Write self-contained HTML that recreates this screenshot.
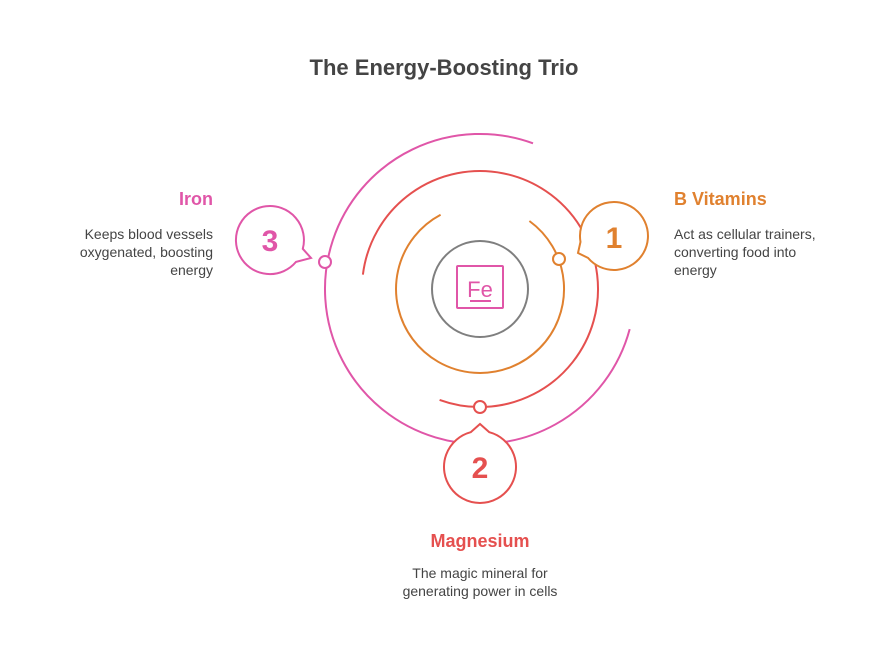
<!DOCTYPE html>
<html><head><meta charset="utf-8"><style>
html,body{margin:0;padding:0;background:#fff;}
svg{display:block;font-family:"Liberation Sans",Arial,sans-serif;}
</style></head><body>
<svg width="888" height="662" viewBox="0 0 888 662">
<text x="444" y="75" text-anchor="middle" font-size="22" font-weight="bold" fill="#444">The Energy-Boosting Trio</text>

<circle cx="480" cy="289" r="48" fill="none" stroke="#7f7f7f" stroke-width="2"/>
<rect x="457" y="266" width="46" height="42" fill="none" stroke="#E056A8" stroke-width="2" rx="1"/>
<text x="480" y="297" text-anchor="middle" font-size="22" fill="#E056A8">Fe</text>
<line x1="470" y1="301" x2="491" y2="301" stroke="#E056A8" stroke-width="2"/>

<path d="M 529.4 221 A 84 84 0 1 1 440.6 214.8" fill="none" stroke="#E0812F" stroke-width="2"/>
<path d="M 362.9 274.6 A 118 118 0 1 1 439.6 399.9" fill="none" stroke="#E5504F" stroke-width="2"/>
<path d="M 629.7 329.1 A 155 155 0 1 1 533 143.3" fill="none" stroke="#E056A8" stroke-width="2"/>

<path d="M 580.5 241.9 A 34 34 0 1 1 588 257.9 L 578 253 Z" fill="#fff" stroke="#E0812F" stroke-width="2"/>
<text x="614" y="248" text-anchor="middle" font-size="30" font-weight="bold" fill="#E0812F">1</text>
<path d="M 296 261.9 A 34 34 0 1 1 302.8 248.8 L 311 258 Z" fill="#fff" stroke="#E056A8" stroke-width="2"/>
<text x="270" y="251" text-anchor="middle" font-size="30" font-weight="bold" fill="#E056A8">3</text>
<path d="M 489.3 432.2 A 36 36 0 1 1 470.7 432.2 L 480 424 Z" fill="#fff" stroke="#E5504F" stroke-width="2"/>
<text x="480" y="478" text-anchor="middle" font-size="30" font-weight="bold" fill="#E5504F">2</text>

<circle cx="559" cy="259" r="6" fill="#fff" stroke="#E0812F" stroke-width="2"/>
<circle cx="480" cy="407" r="6" fill="#fff" stroke="#E5504F" stroke-width="2"/>
<circle cx="325" cy="262" r="6" fill="#fff" stroke="#E056A8" stroke-width="2"/>

<text x="213" y="205" text-anchor="end" font-size="18" font-weight="bold" fill="#E056A8">Iron</text>
<g font-size="14" fill="#444" text-anchor="end">
<text x="213" y="239">Keeps blood vessels</text>
<text x="213" y="257">oxygenated, boosting</text>
<text x="213" y="275">energy</text>
</g>
<text x="674" y="205" font-size="18" font-weight="bold" fill="#E0812F">B Vitamins</text>
<g font-size="14" fill="#444">
<text x="674" y="239">Act as cellular trainers,</text>
<text x="674" y="257">converting food into</text>
<text x="674" y="275">energy</text>
</g>
<text x="480" y="547" text-anchor="middle" font-size="18" font-weight="bold" fill="#E5504F">Magnesium</text>
<g font-size="14" fill="#444" text-anchor="middle">
<text x="480" y="578">The magic mineral for</text>
<text x="480" y="596">generating power in cells</text>
</g>
</svg>
</body></html>
